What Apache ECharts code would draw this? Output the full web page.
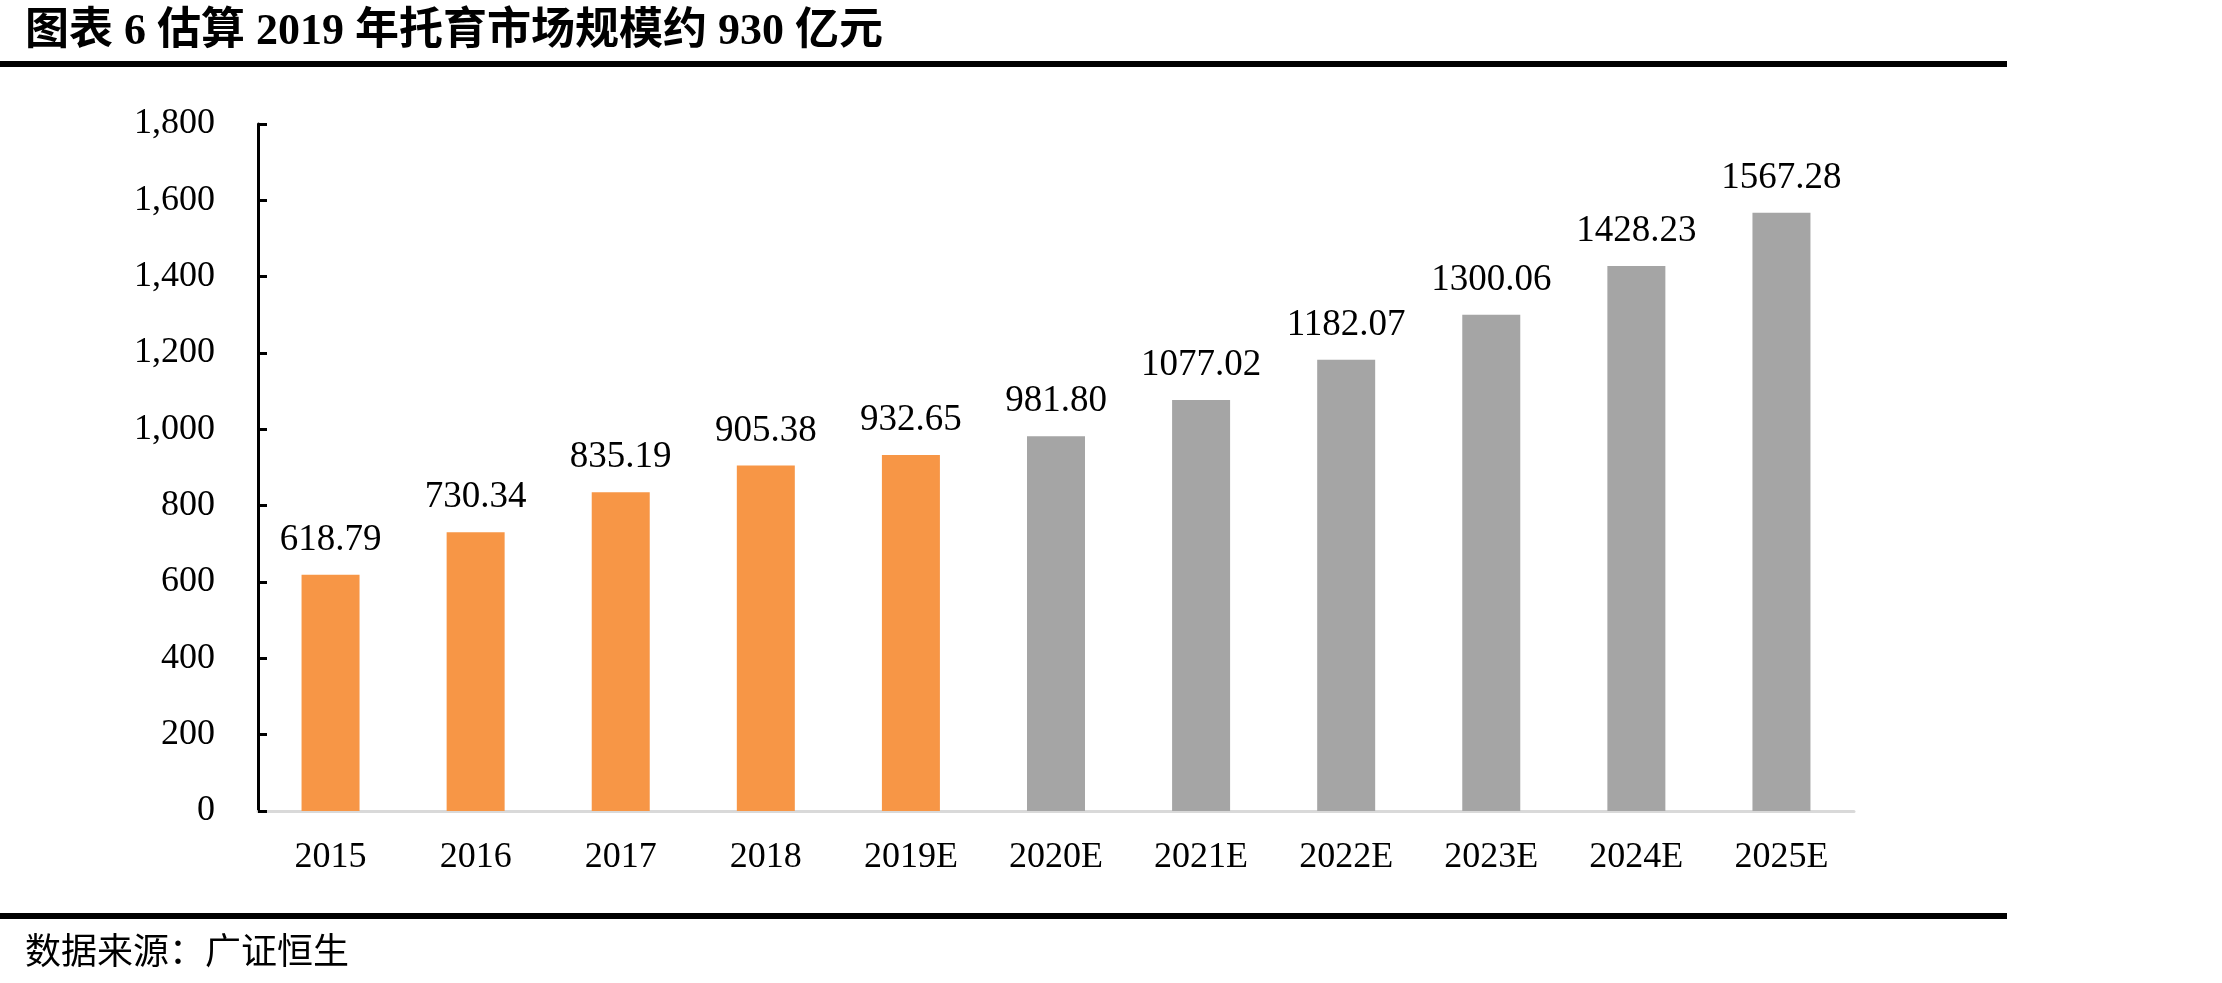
<!DOCTYPE html>
<html>
<head>
<meta charset="utf-8">
<script src="https://cdn.jsdelivr.net/npm/echarts@6/dist/echarts.min.js"></script>
<style>
html,body{margin:0;padding:0;background:#fff;}
#chart{width:2222px;height:983px;}
</style>
</head>
<body>
<div id="chart"></div>
<script>
const titleText = '图表 6 估算 2019 年托育市场规模约 930 亿元';
const sourceText = '数据来源：广证恒生';
const categories = ['2015','2016','2017','2018','2019E','2020E','2021E','2022E','2023E','2024E','2025E'];
const actualValues = [618.79, 730.34, 835.19, 905.38, 932.65, '-', '-', '-', '-', '-', '-'];
const forecastValues = ['-', '-', '-', '-', '-', 981.80, 1077.02, 1182.07, 1300.06, 1428.23, 1567.28];
const yTicks = {min: 0, max: 1800, interval: 200};

const numFont = '"Liberation Serif", "Times New Roman", serif';
const labelCfg = {
  show: true, position: 'top', distance: 16,
  color: '#000', fontSize: 37, fontFamily: numFont,
  formatter: p => Number(p.value).toFixed(2)
};

const chart = echarts.init(document.getElementById('chart'), null, {renderer: 'canvas'});
chart.setOption({
  animation: false,
  backgroundColor: '#fff',
  grid: {left: 258, right: 368, top: 124, bottom: 172, containLabel: false},
  xAxis: {
    type: 'category', data: categories,
    axisLine: {show: true, lineStyle: {color: '#d9d9d9', width: 3}},
    axisTick: {show: false},
    axisLabel: {color: '#000', fontSize: 36, fontFamily: numFont, margin: 29}
  },
  yAxis: {
    type: 'value', min: yTicks.min, max: yTicks.max, interval: yTicks.interval,
    axisLine: {show: true, lineStyle: {color: '#000', width: 3}},
    axisTick: {show: true, inside: true, length: 9, lineStyle: {color: '#000', width: 3}},
    splitLine: {show: false},
    axisLabel: {color: '#000', fontSize: 36, fontFamily: numFont, margin: 43,
      formatter: v => v.toLocaleString('en-US')}
  },
  series: [
    {type: 'bar', stack: 'all', data: actualValues, barWidth: 58,
     itemStyle: {color: '#F79646'}, label: labelCfg},
    {type: 'bar', stack: 'all', data: forecastValues, barWidth: 58,
     itemStyle: {color: '#A5A5A5'}, label: labelCfg}
  ],
  graphic: [
    {type: 'text', left: 25, top: 11,
     style: {text: titleText, fontSize: 44, fontWeight: 'bold',
       fontFamily: '"Liberation Serif", "Noto Sans CJK SC", serif', fill: '#000'}},
    {type: 'rect', shape: {x: 0, y: 61, width: 2007, height: 6}, style: {fill: '#000'}},
    {type: 'rect', shape: {x: 0, y: 913, width: 2007, height: 6}, style: {fill: '#000'}},
    {type: 'text', left: 25, top: 932,
     style: {text: sourceText, fontSize: 36,
       fontFamily: '"Noto Sans CJK SC", sans-serif', fill: '#000'}}
  ]
});
</script>
</body>
</html>
